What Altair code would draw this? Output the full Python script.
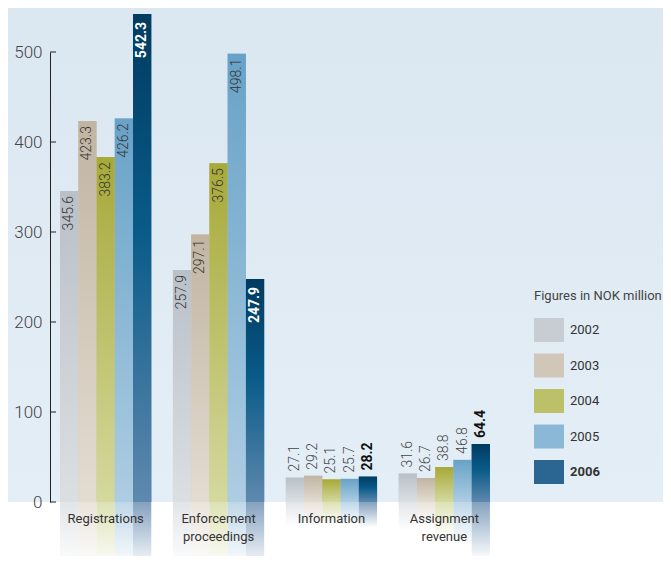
import altair as alt
import pandas as pd

categories = ["Registrations", "Enforcement proceedings", "Information", "Assignment revenue"]
years = ["2002", "2003", "2004", "2005", "2006"]
v2002 = [345.6, 257.9, 27.1, 31.6]
v2003 = [423.3, 297.1, 29.2, 26.7]
v2004 = [383.2, 376.5, 25.1, 38.8]
v2005 = [426.2, 498.1, 25.7, 46.8]
v2006 = [542.3, 247.9, 28.2, 64.4]
y_ticks = [0, 100, 200, 300, 400, 500]

series = {"2002": v2002, "2003": v2003, "2004": v2004, "2005": v2005, "2006": v2006}
df = pd.DataFrame(
    [{"category": c, "year": y, "value": v} for y in years for c, v in zip(categories, series[y])]
)
ticks_df = pd.DataFrame({"t": y_ticks})

FONT = "Roboto"

# styles
bar_stops = {
    "2002": [("#b9c0c8", 0), ("#dbdfe2", 1)],
    "2003": [("#c1b5a2", 0), ("#e3dcd1", 1)],
    "2004": [("#a7a938", 0), ("#d4d99e", 1)],
    "2005": [("#68a2c7", 0), ("#adcde3", 1)],
    "2006": [("#003b61", 0), ("#0a5b89", 0.45), ("#5f89ae", 1)],
}
refl_rgb = {
    "2002": "215,219,223",
    "2003": "224,216,204",
    "2004": "208,214,150",
    "2005": "165,200,224",
    "2006": "85,125,165",
}
legend_colors = ["#c8cdd3", "#d1c7b8", "#bcc069", "#8ab8d6", "#2b6692"]


def vgrad(stops):
    return alt.LinearGradient(
        gradient="linear", x1=0, y1=0, x2=0, y2=1,
        stops=[alt.GradientStop(color=c, offset=o) for c, o in stops],
    )


yscale = alt.Scale(domain=[0, 500], nice=False, zero=True)
xscale = alt.Scale(paddingInner=0.192, paddingOuter=0.089)
xoscale = alt.Scale(paddingInner=0, paddingOuter=0)

x_axis = alt.Axis(
    title=None, domain=False, ticks=False, tickSize=0, labelPadding=10, labelAngle=0,
    labelFont=FONT, labelFontSize=13, labelColor="#333333", labelLineHeight=18,
    labelExpr="split(datum.label, ' ')", grid=False, zindex=1,
)
y_axis = alt.Axis(
    title=None, domain=True, domainColor="#222222", domainWidth=1, ticks=False, tickSize=0,
    labelPadding=8, labelFont=FONT, labelFontSize=17, labelFontWeight=300, labelColor="#444444",
    values=y_ticks, grid=False, zindex=1,
)

X = alt.X("category:N", sort=categories, scale=xscale, axis=x_axis)
XO = alt.XOffset("year:N", sort=years, scale=xoscale)


def Y(field):
    return alt.Y(field, scale=yscale, axis=y_axis)


base = alt.Chart(df).encode(x=X, xOffset=XO, y=Y("value:Q"))

# background
bg = alt.Chart(pd.DataFrame({"bg": [0]})).mark_rect(
    fill=vgrad([("#dbe7f1", 0), ("#e4eef6", 1)])
).encode(x=alt.value(-42), x2=alt.value(613), y=alt.value(-44), y2=alt.value(450))

# solid bars (carry the legend)
solid = base.mark_bar().encode(
    color=alt.Color(
        "year:N", sort=years,
        scale=alt.Scale(domain=years, range=legend_colors),
        legend=alt.Legend(
            title="Figures in NOK million", orient="none", legendX=484, legendY=238,
            titleFont=FONT, titleFontSize=13, titleFontWeight="normal", titleColor="#444444",
            titlePadding=12, titleLimit=400,
            symbolType="M-1,-0.8L1,-0.8L1,0.8L-1,0.8Z", symbolSize=900, symbolStrokeWidth=0,
            symbolOpacity=1,
            labelFont=FONT, labelFontSize=13, labelColor="#333333", labelOffset=6,
            labelFontWeight={"expr": "datum.label == '2006' ? 'bold' : 'normal'"},
            rowPadding=8.5, padding=0,
        ),
    ),
)

layers = [bg, solid]

# gradient bars and reflections per year
for yr in years:
    sel = base.transform_filter(f"datum.year == '{yr}'")
    layers.append(sel.mark_bar(fill=vgrad(bar_stops[yr])))
    refl = alt.Chart(df).transform_filter(f"datum.year == '{yr}'").transform_calculate(
        refl="-min(datum.value, 75)"
    ).mark_bar(
        fill=vgrad([(f"rgba({refl_rgb[yr]},0.72)", 0), (f"rgba({refl_rgb[yr]},0)", 1)])
    ).encode(x=X, xOffset=XO, y=Y("refl:Q"), y2=alt.datum(0))
    layers.append(refl)

txt = alt.Text("value:Q", format=".1f")
inside = base.transform_filter("datum.value > 100")
above = base.transform_filter("datum.value <= 100")

layers.append(
    inside.transform_filter("datum.year != '2006'").mark_text(
        angle=270, align="right", baseline="middle", dx=-5, font=FONT, fontSize=14,
        fontWeight=300, color="#333333"
    ).encode(text=txt)
)
layers.append(
    inside.transform_filter("datum.year == '2006'").mark_text(
        angle=270, align="right", baseline="middle", dx=-8, font=FONT, fontSize=14,
        fontWeight="bold", color="#ffffff"
    ).encode(text=txt)
)
layers.append(
    above.transform_filter("datum.year != '2006'").mark_text(
        angle=270, align="left", baseline="middle", dx=6, font=FONT, fontSize=14,
        fontWeight=300, color="#444444"
    ).encode(text=txt)
)
layers.append(
    above.transform_filter("datum.year == '2006'").mark_text(
        angle=270, align="left", baseline="middle", dx=6, font=FONT, fontSize=14,
        fontWeight="bold", color="#111111"
    ).encode(text=txt)
)

# inward tick marks on the y axis
layers.append(
    alt.Chart(ticks_df).mark_rule(color="#222222", strokeWidth=1).encode(
        y=Y("t:Q"), x=alt.value(0), x2=alt.value(6)
    )
)

chart = alt.layer(*layers).properties(
    width=450, height=450,
    autosize=alt.AutoSizeParams(type="none"),
    padding={"left": 42, "top": 44, "right": 163, "bottom": 54},
).configure(background="white").configure_view(stroke=None)

chart.save("out.html", embed_options={"renderer": "svg", "actions": False})
